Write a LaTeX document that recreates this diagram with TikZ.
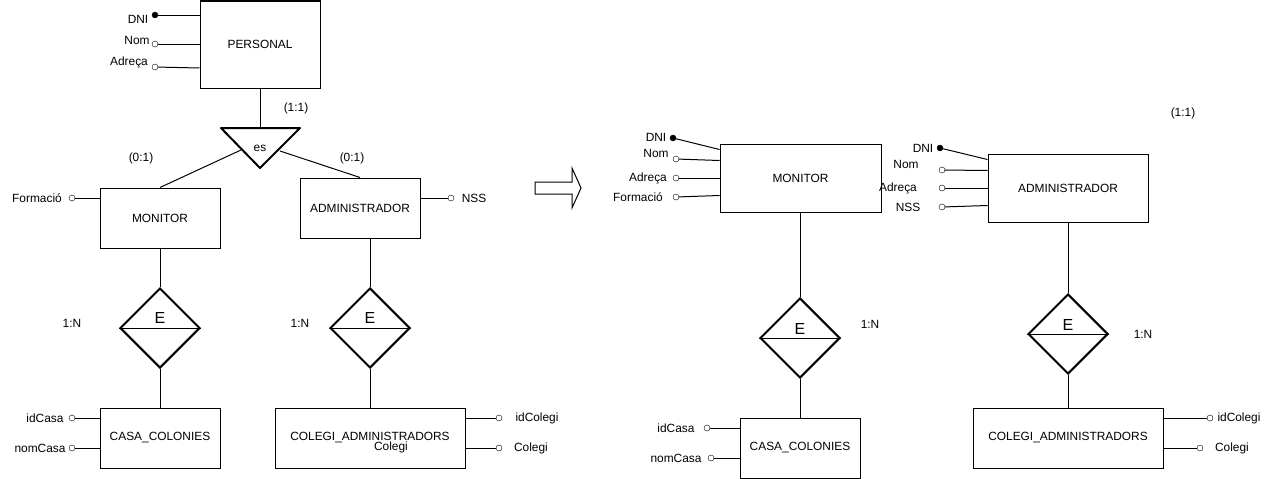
\documentclass[tikz,border=0pt]{standalone}
\usepackage{fontspec}
\setmainfont{Liberation Sans}
\usepackage{tikz}
\usetikzlibrary{shapes.geometric}

\begin{document}
\begin{tikzpicture}[x=1pt,y=-1pt,
    every node/.style={font=\fontsize{11.9}{13}\selectfont},
    entity/.style={draw,line width=1pt,minimum width=120pt,minimum height=60pt,inner sep=0pt},
    rel/.style={draw,diamond,line width=2pt,minimum width=80pt,minimum height=80pt,inner sep=0pt},
    key/.style={circle,draw,fill=black,inner sep=0pt,minimum size=6pt},
    attr/.style={circle,draw,fill=white,inner sep=0pt,minimum size=6pt},
    link/.style={line width=1pt},
    bigE/.style={font=\fontsize{16}{18}\selectfont}]

    \useasboundingbox (0,0) rectangle (1274,479);

    \node [entity,minimum height=87pt] (pers) at (260,44.5) {PERSONAL};
    \node [entity] (mon1) at (160,218) {MONITOR};
    \node [entity] (adm1) at (360,208) {ADMINISTRADOR};
    \node [entity] (casa1) at (160,438) {CASA\_COLONIES};
    \node [entity,minimum width=190pt] (col1) at (370,438) {COLEGI\_ADMINISTRADORS};
    \node (colt1) at (391,447) {Colegi};

    \node [key] (dni1) at (155,15) {};
    \node (tdni1) at (138,19) {DNI};
    \node [attr] (nom1) at (155,44) {};
    \node (tnom1) at (137,40) {Nom};
    \node [attr] (adr1) at (155,67) {};
    \node (tadr1) at (129,62) {Adreça};
    \draw [link] (dni1) -- (pers.west |- dni1);
    \draw [link] (nom1) -- (pers.west |- nom1);
    \draw [link] (adr1) -- ([yshift=-1pt]pers.west |- adr1);

    \node (es) at (260,148) {es};
    \coordinate (estop) at (260,128);
    \coordinate (esl) at (241,150);
    \coordinate (esr) at (280,151);
    \draw [line width=2pt,line join=round] (221,128) -- (300,128) -- (260,168) -- cycle;
    \draw [link] (pers.south) -- (estop);
    \draw [link] (esl) -- (mon1.north);
    \draw [link] (esr) -- (adm1.north);
    \node (c11) at (296,108) {(1:1)};
    \node (c01a) at (141,158) {(0:1)};
    \node (c01b) at (352,158) {(0:1)};

    \node [attr] (for1) at (72,198) {};
    \node (tfor1) at (37,198) {Formació};
    \draw [link] (for1) -- (mon1.west |- for1);
    \node [attr] (nss1) at (451,198) {};
    \node (tnss1) at (474,198) {NSS};
    \draw [link] (nss1) -- (adm1.east |- nss1);

    \node [rel] (r1) at (160,328) {};
    \draw [link] (r1.west) -- (r1.east);
    \node [bigE] (e1) at (160,318) {E};
    \node (n1) at (72,323) {1:N};
    \draw [link] (mon1) -- (r1);
    \draw [link] (r1) -- (casa1);

    \node [rel] (r2) at (370,328) {};
    \draw [link] (r2.west) -- (r2.east);
    \node [bigE] (e2) at (370,318) {E};
    \node (n2) at (300,323) {1:N};
    \draw [link] (adm1.south -| r2) -- (r2);
    \draw [link] (r2) -- (col1);

    \node [attr] (idc1) at (72,418) {};
    \node (tidc1) at (45,418) {idCasa};
    \node [attr] (nomc1) at (72,448) {};
    \node (tnomc1) at (40,448) {nomCasa};
    \draw [link] (idc1) -- (casa1.west |- idc1);
    \draw [link] (nomc1) -- (casa1.west |- nomc1);

    \node [attr] (idcol1) at (499,418) {};
    \node (tidcol1) at (537,418) {idColegi};
    \node [attr] (colg1) at (499,448) {};
    \node (tcolg1) at (531,448) {Colegi};
    \draw [link] (col1.east |- idcol1) -- (idcol1);
    \draw [link] (col1.east |- colg1) -- (colg1);

    \draw [line width=1pt] (535,182) -- (572,182) -- (572,168) -- (581,188)
        -- (572,208) -- (572,194) -- (535,194) -- cycle;

    \node [entity,minimum width=161pt,minimum height=68pt] (mon2) at (800.5,178) {MONITOR};
    \node [entity,minimum width=160pt,minimum height=68pt] (adm2) at (1068,188) {ADMINISTRADOR};
    \node [entity] (casa2) at (800,448) {CASA\_COLONIES};
    \node [entity,minimum width=190pt] (col2) at (1068,438) {COLEGI\_ADMINISTRADORS};

    \node [key] (dni2) at (673,138) {};
    \node (tdni2) at (656,137) {DNI};
    \node [attr] (nom2) at (676,159) {};
    \node (tnom2) at (656,153) {Nom};
    \node [attr] (adr2) at (676,178) {};
    \node (tadr2) at (648,178) {Adreça};
    \node [attr] (for2) at (676,197) {};
    \node (tfor2) at (638,197) {Formació};
    \draw [link] (dni2) -- ([yshift=-6pt]mon2.north west);
    \draw [link] (nom2) -- ([yshift=-17pt]mon2.north west);
    \draw [link] (adr2) -- (mon2.west |- adr2);
    \draw [link] (for2) -- ([yshift=-52pt]mon2.north west);

    \node [key] (dni3) at (940,148) {};
    \node (tdni3) at (923,148) {DNI};
    \node [attr] (nom3) at (942,170) {};
    \node (tnom3) at (906,164) {Nom};
    \node [attr] (adr3) at (942,188) {};
    \node (tadr3) at (898,188) {Adreça};
    \node [attr] (nss3) at (942,207) {};
    \node (tnss3) at (908,207) {NSS};
    \draw [link] (dni3) -- ([yshift=-6pt]adm2.north west);
    \draw [link] (nom3) -- ([yshift=-17pt]adm2.north west);
    \draw [link] (adr3) -- (adm2.west |- adr3);
    \draw [link] (nss3) -- ([yshift=-52pt]adm2.north west);
    \node (c11b) at (1183,113) {(1:1)};

    \node [rel] (r3) at (800,338) {};
    \draw [link] (r3.west) -- (r3.east);
    \node [bigE] (e3) at (800,329) {E};
    \node (n3) at (870,324) {1:N};
    \draw [link] (mon2.south -| r3) -- (r3);
    \draw [link] (r3) -- (casa2);

    \node [rel] (r4) at (1068,334) {};
    \draw [link] (r4.west) -- (r4.east);
    \node [bigE] (e4) at (1068,325) {E};
    \node (n4) at (1143,334) {1:N};
    \draw [link] (adm2) -- (r4);
    \draw [link] (r4) -- (col2);

    \node [attr] (idc2) at (707,428) {};
    \node (tidc2) at (676,428) {idCasa};
    \node [attr] (nomc2) at (711,458) {};
    \node (tnomc2) at (676,458) {nomCasa};
    \draw [link] (idc2) -- (casa2.west |- idc2);
    \draw [link] (nomc2) -- (casa2.west |- nomc2);

    \node [attr] (idcol2) at (1210,418) {};
    \node (tidcol2) at (1239,418) {idColegi};
    \node [attr] (colg2) at (1200,448) {};
    \node (tcolg2) at (1232,448) {Colegi};
    \draw [link] (col2.east |- idcol2) -- (idcol2);
    \draw [link] (col2.east |- colg2) -- (colg2);
\end{tikzpicture}
\end{document}
